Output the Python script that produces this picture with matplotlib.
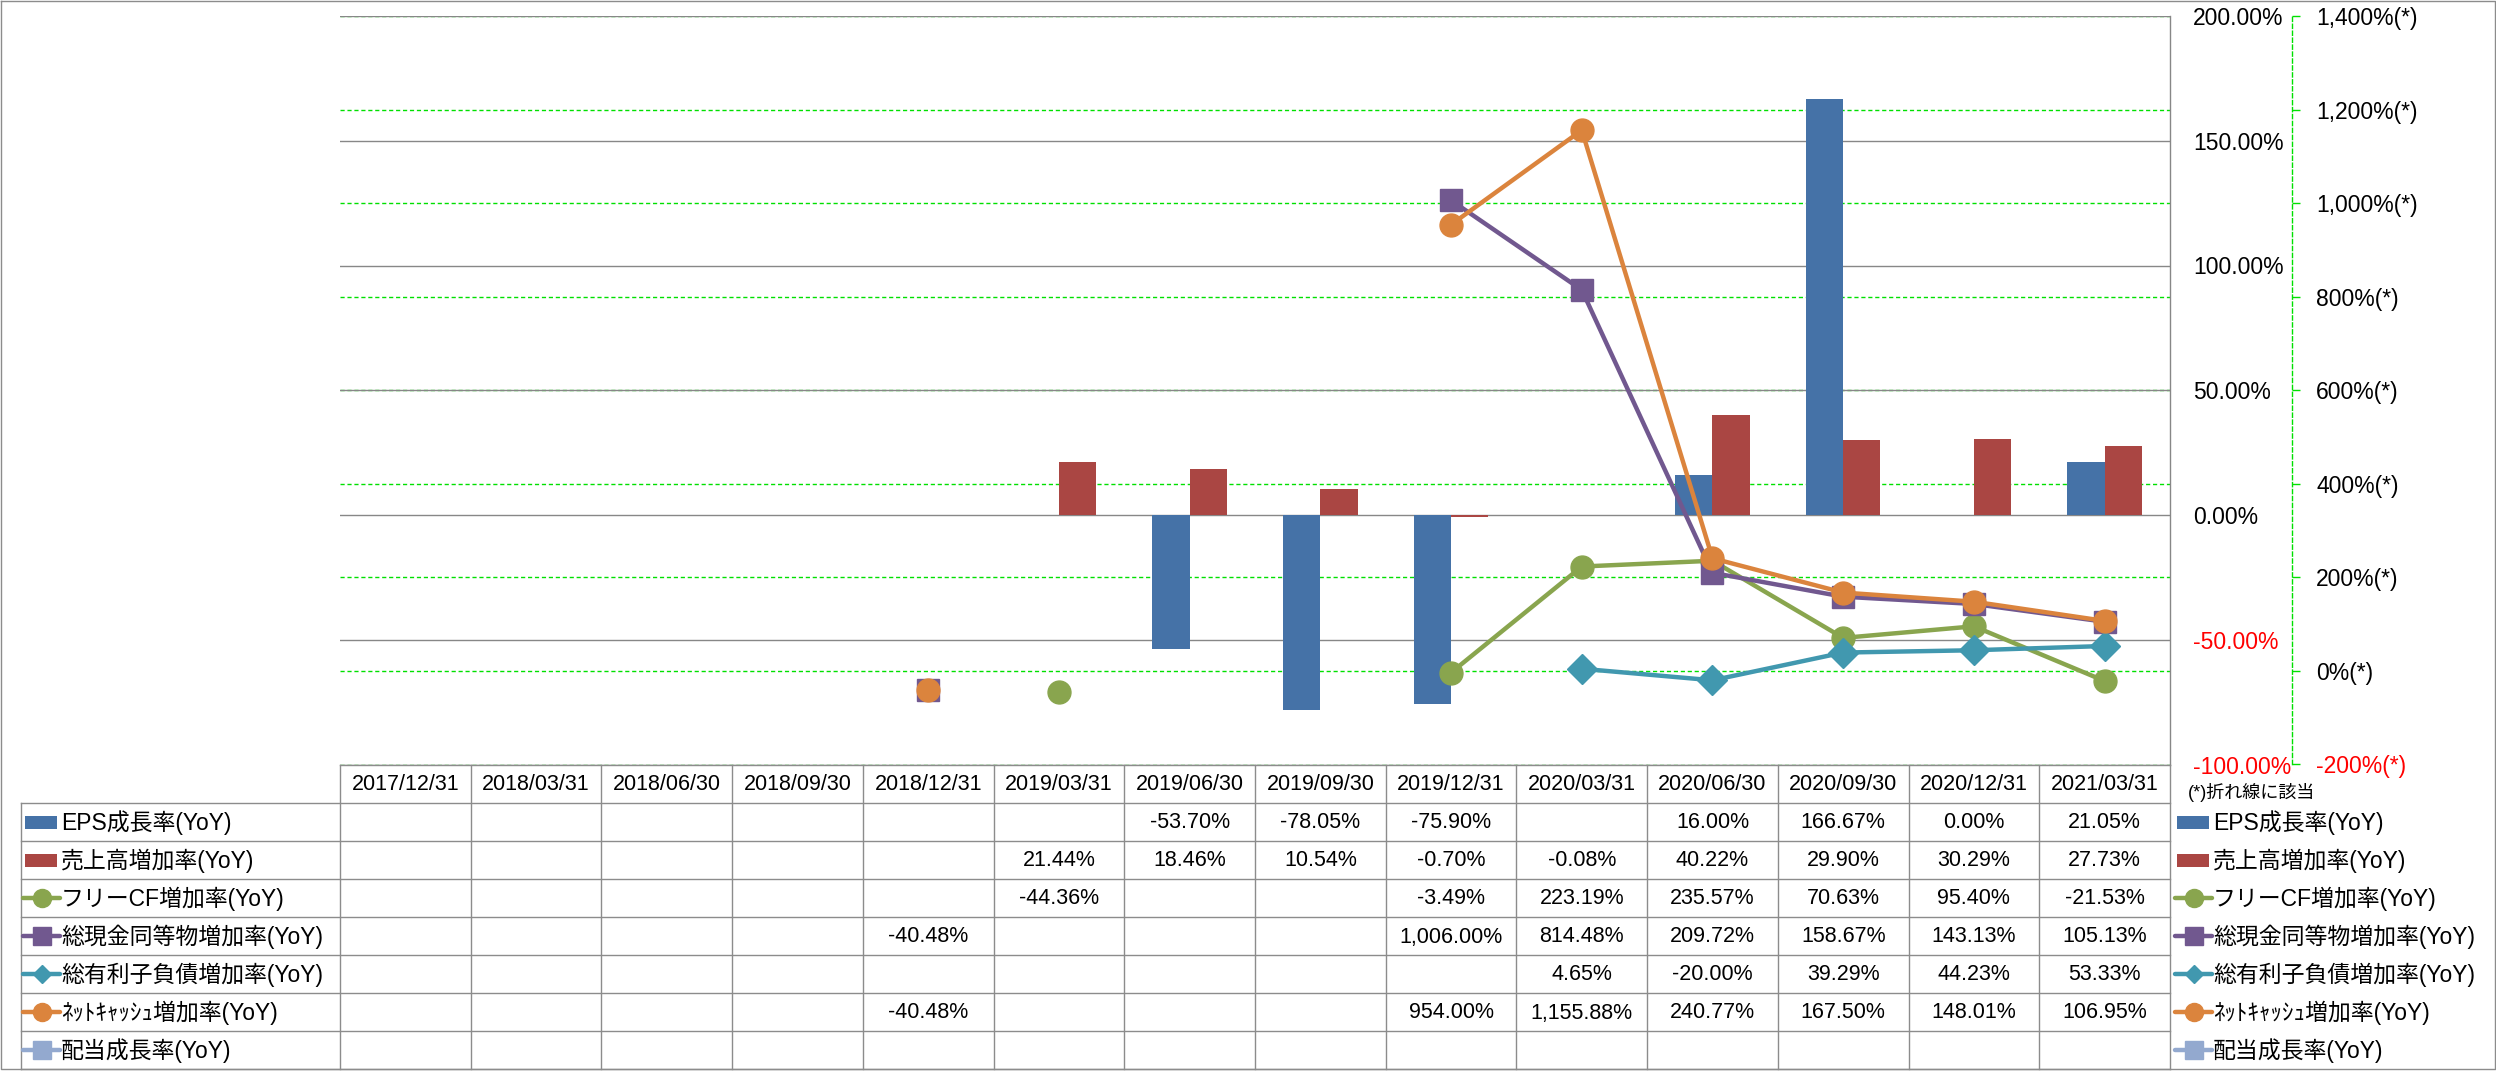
import numpy as np
import matplotlib
matplotlib.use('Agg')
import matplotlib.pyplot as plt
from matplotlib.patches import Rectangle
from matplotlib.lines import Line2D

plt.rcParams['font.family'] = ['Liberation Sans', 'Noto Sans CJK JP', 'DejaVu Sans']

nan = np.nan

# ------------------------------------------------------------------ data
dates = ['2017/12/31', '2018/03/31', '2018/06/30', '2018/09/30', '2018/12/31',
         '2019/03/31', '2019/06/30', '2019/09/30', '2019/12/31', '2020/03/31',
         '2020/06/30', '2020/09/30', '2020/12/31', '2021/03/31']

epsGrowth   = [nan, nan, nan, nan, nan, nan, -53.70, -78.05, -75.90, nan, 16.00, 166.67, 0.00, 21.05]
salesGrowth = [nan, nan, nan, nan, nan, 21.44, 18.46, 10.54, -0.70, -0.08, 40.22, 29.90, 30.29, 27.73]
fcfGrowth   = [nan, nan, nan, nan, nan, -44.36, nan, nan, -3.49, 223.19, 235.57, 70.63, 95.40, -21.53]
cashGrowth  = [nan, nan, nan, nan, -40.48, nan, nan, nan, 1006.00, 814.48, 209.72, 158.67, 143.13, 105.13]
debtGrowth  = [nan, nan, nan, nan, nan, nan, nan, nan, nan, 4.65, -20.00, 39.29, 44.23, 53.33]
netCashGrowth = [nan, nan, nan, nan, -40.48, nan, nan, nan, 954.00, 1155.88, 240.77, 167.50, 148.01, 106.95]
dividendGrowth = [nan] * 14

seriesNames = ['EPS成長率(YoY)', '売上高増加率(YoY)', 'フリーCF増加率(YoY)',
               '総現金同等物増加率(YoY)', '総有利子負債増加率(YoY)',
               'ﾈｯﾄｷｬｯｼｭ増加率(YoY)', '配当成長率(YoY)']

leftTicks = [-100, -50, 0, 50, 100, 150, 200]
rightTicks = [-200, 0, 200, 400, 600, 800, 1000, 1200, 1400]

# ------------------------------------------------------------------ styles
seriesData = [epsGrowth, salesGrowth, fcfGrowth, cashGrowth, debtGrowth, netCashGrowth, dividendGrowth]
seriesColors = ['#4572A7', '#AA4643', '#89A54E', '#71588F', '#4198AF', '#DB843D', '#93A9CF']
seriesKinds = ['bar', 'bar', 'o', 's', 'D', 'o', 's']
gridGray = '#878787'
gridGreen = '#00E000'

W, H = 2496, 1071
fig = plt.figure(figsize=(W / 100, H / 100), dpi=100)

plotL, plotR, plotT, plotB = 340, 2170, 16, 764.5
ax = fig.add_axes([plotL / W, 1 - plotB / H, (plotR - plotL) / W, (plotB - plotT) / H])

x = np.arange(len(dates))
barW = 0.285

# secondary gridlines (green dashed), mapped into primary units
for t in rightTicks:
    yp = leftTicks[0] + (t - rightTicks[0]) * (leftTicks[-1] - leftTicks[0]) / (rightTicks[-1] - rightTicks[0])
    ax.axhline(yp, color=gridGreen, lw=1, ls=(0, (3, 2)), zorder=0.5)
for t in leftTicks:
    ax.axhline(t, color=gridGray, lw=1, zorder=0.6)

ax.bar(x - barW / 2, epsGrowth, barW, color=seriesColors[0], zorder=2)
ax.bar(x + barW / 2, salesGrowth, barW, color=seriesColors[1], zorder=2)

ax.set_xlim(-0.5, len(dates) - 0.5)
ax.set_ylim(leftTicks[0], leftTicks[-1])
ax.set_xticks([])

ax2 = ax.twinx()
ax2.patch.set_visible(False)
for i in range(2, 7):
    ax2.plot(x, seriesData[i], color=seriesColors[i], lw=3.2, marker=seriesKinds[i],
             ms=15 if seriesKinds[i] == 'D' else 16.5, mec=seriesColors[i], mfc=seriesColors[i],
             zorder=3 + i)
ax2.set_ylim(rightTicks[0], rightTicks[-1])
ax2.set_xlim(-0.5, len(dates) - 0.5)
ax2.set_xticks([])

# primary axis labels at right of plot
ax.yaxis.tick_right()
ax.set_yticks(leftTicks)
ax.set_yticklabels(['{:.2f}%'.format(t) for t in leftTicks])
ax.tick_params(axis='y', length=0, pad=16.5, labelsize=16.5)
for lab, t in zip(ax.get_yticklabels(), leftTicks):
    lab.set_color('red' if t < 0 else 'black')

for s in ['left', 'top', 'bottom']:
    ax.spines[s].set_visible(False)
ax.spines['right'].set_color(gridGray)
ax.spines['right'].set_linewidth(1)

for s in ['left', 'top', 'bottom']:
    ax2.spines[s].set_visible(False)
ax2.spines['right'].set_position(('axes', (2292 - plotL) / (plotR - plotL)))
ax2.spines['right'].set_color(gridGreen)
ax2.spines['right'].set_linestyle((0, (3, 2)))
ax2.spines['right'].set_linewidth(1)
ax2.set_yticks(rightTicks)
ax2.set_yticklabels(['{:,}%(*)'.format(t) for t in rightTicks])
ax2.tick_params(axis='y', length=5.8, width=1, color=gridGreen, pad=11.5, labelsize=16.5)
for lab, t in zip(ax2.get_yticklabels(), rightTicks):
    lab.set_color('red' if t < 0 else 'black')

# ------------------------------------------------------------------ data table (pixel coords)
tab = fig.add_axes([0, 0, 1, 1])
tab.set_xlim(0, W)
tab.set_ylim(H, 0)
tab.axis('off')
tab.patch.set_visible(False)

lineC = '#8C8C8C'
colX = plotL + np.arange(len(dates) + 1) * (plotR - plotL) / len(dates)
rowY = [764.5] + [803 + 38 * k for k in range(8)]
legL = 21

tab.plot([plotL, plotR], [rowY[0], rowY[0]], color=lineC, lw=1)
for yy in rowY[1:]:
    tab.plot([legL, plotR], [yy, yy], color=lineC, lw=1)
for xx in colX:
    tab.plot([xx, xx], [rowY[0], rowY[-1]], color=lineC, lw=1)
tab.plot([legL, legL], [rowY[1], rowY[-1]], color=lineC, lw=1)

# outer frame of the whole picture
tab.plot([0.5, W - 1, W - 1, 0.5, 0.5], [0.5, 0.5, rowY[-1], rowY[-1], 0.5], color=lineC, lw=1)

for j, d in enumerate(dates):
    tab.text((colX[j] + colX[j + 1]) / 2, (rowY[0] + rowY[1]) / 2 + 1, d,
             ha='center', va='center', fontsize=15.5)

for i, vals in enumerate(seriesData):
    yc = (rowY[i + 1] + rowY[i + 2]) / 2
    for j, v in enumerate(vals):
        if not np.isnan(v):
            tab.text((colX[j] + colX[j + 1]) / 2, yc + 1, '{:,.2f}%'.format(v),
                     ha='center', va='center', fontsize=15.5)


def DrawLegendEntry(x0, yc, i):
    color = seriesColors[i]
    if seriesKinds[i] == 'bar':
        tab.add_patch(Rectangle((x0 + 4, yc - 6.5), 32, 13, color=color, lw=0))
    else:
        tab.add_line(Line2D([x0 + 2, x0 + 39], [yc, yc], color=color, lw=3.2,
                            solid_capstyle='round'))
        tab.add_line(Line2D([x0 + 20.5], [yc], color=color, marker=seriesKinds[i],
                            ms=9.5 if seriesKinds[i] == 'D' else 13, mec=color, mfc=color))
    tab.text(x0 + 40, yc + 1, seriesNames[i], ha='left', va='center', fontsize=16.5)


for i in range(len(seriesNames)):
    yc = (rowY[i + 1] + rowY[i + 2]) / 2
    DrawLegendEntry(legL, yc, i)
    DrawLegendEntry(2173, yc, i)

tab.text(2188, 792, '(*)折れ線に該当', ha='left', va='center', fontsize=13)

fig.savefig('out.png', dpi=100)
